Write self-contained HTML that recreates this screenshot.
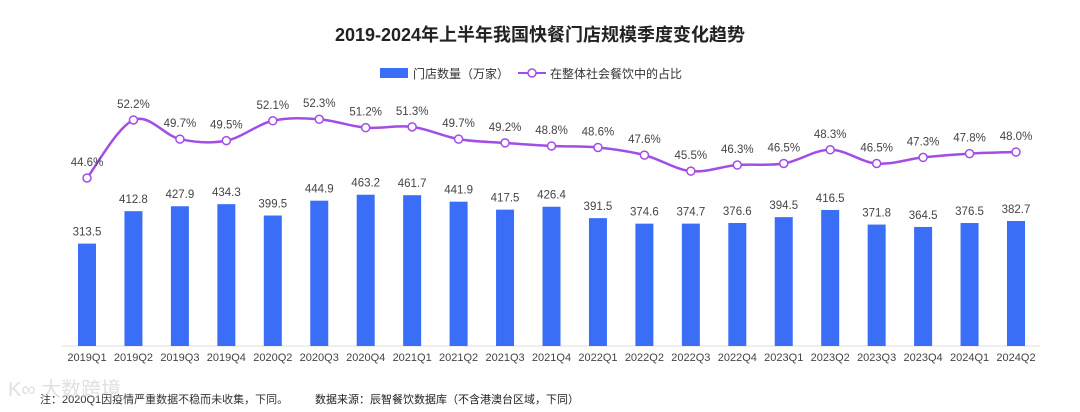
<!DOCTYPE html>
<html><head><meta charset="utf-8"><style>
body{margin:0;background:#fff;width:1080px;height:412px;overflow:hidden;font-family:"Liberation Sans","Noto Sans CJK SC",sans-serif;}
</style></head><body>
<svg width="1080" height="412" style="display:block">
<text x="540" y="41" text-anchor="middle" font-size="18" font-weight="bold" fill="#222">2019-2024年上半年我国快餐门店规模季度变化趋势</text>
<g>
<rect x="380" y="68" width="28" height="10" fill="#3a6ef6"/>
<text x="413" y="78" font-size="12" fill="#333">门店数量（万家）</text>
<line x1="518" y1="73" x2="546" y2="73" stroke="#a24de6" stroke-width="2"/>
<circle cx="532" cy="73" r="4" fill="#fff" stroke="#a24de6" stroke-width="1.5"/>
<text x="550" y="78" font-size="12" fill="#333">在整体社会餐饮中的占比</text>
</g>
<line x1="62" y1="346" x2="1040" y2="346" stroke="#ddd"/>
<g id="bars"></g><g id="line"></g><g id="xl"></g>
<text x="40" y="403" font-size="11" fill="#333">注：2020Q1因疫情严重数据不稳而未收集，下同。</text>
<text x="315" y="403" font-size="11" fill="#222">数据来源：辰智餐饮数据库（不含港澳台区域，下同）</text>
<text x="8" y="396" font-size="20" fill="#ccc" opacity="0.6">K∞ 大数跨境</text>
</svg>
<script>
const categories=["2019Q1","2019Q2","2019Q3","2019Q4","2020Q2","2020Q3","2020Q4","2021Q1","2021Q2","2021Q3","2021Q4","2022Q1","2022Q2","2022Q3","2022Q4","2023Q1","2023Q2","2023Q3","2023Q4","2024Q1","2024Q2"];
const storeCounts=[313.5,412.8,427.9,434.3,399.5,444.9,463.2,461.7,441.9,417.5,426.4,391.5,374.6,374.7,376.6,394.5,416.5,371.8,364.5,376.5,382.7];
const shares=[44.6,52.2,49.7,49.5,52.1,52.3,51.2,51.3,49.7,49.2,48.8,48.6,47.6,45.5,46.3,46.5,48.3,46.5,47.3,47.8,48.0];
const NS="http://www.w3.org/2000/svg";
const X=i=>87+i*(1016-87)/(categories.length-1);
const YB=v=>346-v*0.3266;
const YL=v=>178-(v-44.6)*7.63;
function mk(t,a,p){const e=document.createElementNS(NS,t);for(const k in a)e.setAttribute(k,a[k]);p.appendChild(e);return e;}
const bars=document.getElementById('bars'),line=document.getElementById('line'),xl=document.getElementById('xl');
storeCounts.forEach((v,i)=>{
 const r=mk('rect',{x:X(i)-9,y:YB(v),width:18,height:346-YB(v),fill:'#3a6ef6'},bars);
 
 
 const t=mk('text',{x:X(i),y:YB(v)-8,'text-anchor':'middle','font-size':11.5,fill:'#444'},bars);
 t.textContent=v.toFixed(1);
 
 
 const c=mk('text',{x:X(i),y:361,'text-anchor':'middle','font-size':11,fill:'#444'},xl);
 c.textContent=categories[i];
 
 
});
const pts=shares.map((v,i)=>[X(i),YL(v)]);
let d='M'+pts[0][0]+','+pts[0][1];
for(let i=0;i<pts.length-1;i++){
 const p0=pts[Math.max(0,i-1)],p1=pts[i],p2=pts[i+1],p3=pts[Math.min(pts.length-1,i+2)];
 const k=0.17;
 d+=' C'+(p1[0]+(p2[0]-p0[0])*k)+','+(p1[1]+(p2[1]-p0[1])*k)+' '+(p2[0]-(p3[0]-p1[0])*k)+','+(p2[1]-(p3[1]-p1[1])*k)+' '+p2[0]+','+p2[1];
}
const path=mk('path',{d:d,fill:'none',stroke:'#a24de6','stroke-width':2.5},line);


shares.forEach((v,i)=>{
 const c=mk('circle',{cx:pts[i][0],cy:pts[i][1],r:4,fill:'#fff',stroke:'#a24de6','stroke-width':1.5},line);
 
 
 const t=mk('text',{x:pts[i][0],y:pts[i][1]-12,'text-anchor':'middle','font-size':11.5,fill:'#444'},line);
 t.textContent=v.toFixed(1)+'%';
 
 
});
</script>
</body></html>
